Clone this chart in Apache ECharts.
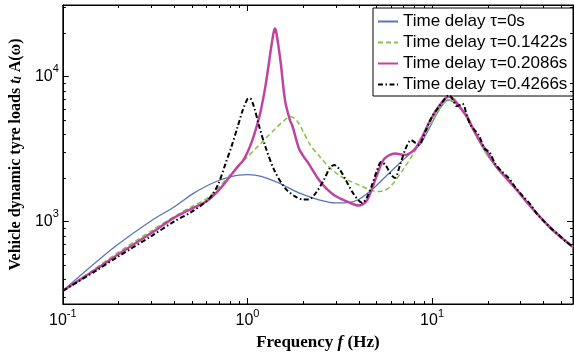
<!DOCTYPE html>
<html><head><meta charset="utf-8">
<script src="https://cdn.jsdelivr.net/npm/echarts@6/dist/echarts.min.js"></script>
<style>html,body{margin:0;padding:0;background:#fff}#c{width:574px;height:356px}</style>
</head><body><div id="c"></div>
<script>
// ---- data (frequency Hz, amplitude) ----
const seriesNames = ['Time delay \u03c4=0s','Time delay \u03c4=0.1422s','Time delay \u03c4=0.2086s','Time delay \u03c4=0.4266s'];

const fBlue = [0.1,0.15,0.2,0.3,0.4,0.5,0.6,0.7,0.8,0.9,1.0,1.1,1.2,1.4,1.6,1.8,2.0,2.5,3.0,3.5,4.0,4.7,5.5,6.5,7.5,8.7,10,11,12.2,13.5,15,17,20,23,26,30,35,40,45,50,58];
const aBlue = [333,520,700,1010,1260,1540,1760,1920,2030,2090,2110,2090,2040,1900,1760,1630,1540,1400,1345,1350,1420,1650,2000,2450,2900,3470,4800,6000,6900,6500,5500,4100,2850,2300,1950,1560,1230,1010,860,770,668];

const fGreen = [0.1,0.15,0.2,0.3,0.4,0.5,0.6,0.7,0.8,0.9,1.0,1.1,1.2,1.3,1.4,1.5,1.6,1.7,1.8,1.9,2.0,2.2,2.5,2.8,3.2,3.6,4.0,4.5,5.0,5.5,6.0,7.0,8.0,9.0,10,11,12.2,13.5,15,17,20,23,26,30,35,40,45,50,58];
const aGreen = [333,475,615,860,1080,1270,1440,1720,2080,2440,2790,3160,3530,3920,4300,4700,5050,5300,5150,4750,4200,3350,2750,2350,2050,1900,1790,1680,1610,1640,1760,2300,3000,3900,4900,6000,6900,6600,5500,4100,2850,2300,1950,1560,1230,1010,860,770,668];

const fMagenta = [0.1,0.15,0.2,0.3,0.4,0.5,0.6,0.7,0.8,0.9,0.94,1.0,1.06,1.12,1.18,1.25,1.3,1.35,1.39,1.41,1.43,1.47,1.52,1.6,1.7,1.75,1.9,2.0,2.15,2.4,2.63,3.0,3.6,4.0,4.4,4.7,5.0,5.5,6.3,7.1,8.0,8.7,9.8,11.2,12.3,13.2,14.3,15.5,16.5,17.5,18.5,20,22,25,28,32,36,40,45,50,58];
const aMagenta = [333,465,595,830,1060,1230,1380,1650,2030,2450,2600,3000,3600,4500,5800,8500,11800,16500,20500,21500,20500,16500,12000,6800,5000,4600,3200,2850,2500,2000,1730,1500,1345,1290,1380,1650,2050,2700,2950,2880,3120,3700,5020,6560,7300,6900,6040,5300,4500,3900,3450,3000,2450,2020,1720,1400,1180,1020,880,780,668];

const fBlack = [0.1,0.15,0.2,0.3,0.4,0.5,0.6,0.65,0.7,0.76,0.82,0.88,0.94,1.0,1.03,1.08,1.16,1.25,1.4,1.6,1.8,2.0,2.15,2.35,2.6,2.8,2.95,3.15,3.4,3.7,4.0,4.2,4.45,4.7,5.0,5.3,5.6,6.0,6.3,6.7,7.2,7.7,8.1,8.5,9.2,10,11,12.4,13.0,13.6,14.6,15.5,16.2,17.2,18.0,19.2,20.5,22,24,26,28,31,34,37,40,44,48,53,58];
const aBlack = [333,455,575,790,1000,1170,1380,1550,1850,2500,3300,4400,5800,7000,7100,6300,4500,3300,2250,1700,1500,1420,1420,1580,1950,2350,2460,2300,1950,1600,1400,1345,1480,1750,2200,2580,2450,2100,2000,2450,3200,3650,3500,3380,4200,5300,6300,7450,6900,6250,6500,5300,4600,4200,3900,3200,3000,2500,2200,2000,1750,1500,1320,1130,1020,900,820,730,668];

// axis minor tick values
const xMinorTicks = [0.2,0.3,0.4,0.5,0.6,0.7,0.8,0.9,2,3,4,5,6,7,8,9,20,30,40,50];
const yMinorTicks = [300,400,500,600,700,800,900,2000,3000,4000,5000,6000,7000,8000,9000,20000,30000];

const xRange = [0.1, 58];
const yRange = [270, 31200];

const zip = (f, a) => f.map((v, i) => [v, a[i]]);

const chart = echarts.init(document.getElementById('c'), null, {renderer: 'canvas'});

function powLabel(v) {
  const l = Math.log10(v);
  const n = Math.round(l);
  if (Math.abs(l - n) > 1e-6) return '';
  return '{b|10}{e|' + n + '}';
}
const labelRich = {
  b: {fontSize: 16, lineHeight: 26, fontFamily: 'Liberation Sans, Arial', color: '#000'},
  e: {fontSize: 11, lineHeight: 11, verticalAlign: 'top', fontFamily: 'Liberation Sans, Arial', color: '#000'}
};
const axisCommon = {
  type: 'log', logBase: 10,
  axisLine: {show: true, onZero: false, lineStyle: {color: '#000', width: 1}},
  axisTick: {show: true, inside: true, length: 6, lineStyle: {color: '#000'}},
  splitLine: {show: false},
  minorTick: {show: false}
};

function minorTickSeries(vals, isX) {
  return {
    type: 'custom', silent: true, clip: false, z: 5,
    xAxisIndex: 0, yAxisIndex: 0,
    data: vals.map(v => isX ? [v, 1000] : [1, v]),
    encode: {x: 0, y: 1},
    renderItem: function (params, api) {
      const cs = params.coordSys;
      const p = api.coord([api.value(0), api.value(1)]);
      const st = {stroke: '#000', lineWidth: 1};
      if (isX) {
        const x = Math.round(p[0]) + 0.5;
        return {type: 'group', children: [
          {type: 'line', shape: {x1: x, y1: cs.y + cs.height, x2: x, y2: cs.y + cs.height - 3}, style: st},
          {type: 'line', shape: {x1: x, y1: cs.y, x2: x, y2: cs.y + 3}, style: st}
        ]};
      } else {
        const y = Math.round(p[1]) + 0.5;
        return {type: 'group', children: [
          {type: 'line', shape: {x1: cs.x, y1: y, x2: cs.x + 3, y2: y}, style: st},
          {type: 'line', shape: {x1: cs.x + cs.width, y1: y, x2: cs.x + cs.width - 3, y2: y}, style: st}
        ]};
      }
    }
  };
}

const option = {
  animation: false,
  backgroundColor: '#fff',
  grid: {left: 58, right: 1, top: 5, bottom: 52, show: true, borderColor: '#000', borderWidth: 1, backgroundColor: 'transparent'},
  legend: {
    data: seriesNames, orient: 'vertical', right: 1, top: 8,
    itemWidth: 20, itemHeight: 12, itemGap: 4,
    padding: [5, 4, 3, 4],
    borderColor: '#000', borderWidth: 1, backgroundColor: '#fff',
    itemStyle: {opacity: 0},
    textStyle: {fontSize: 17, lineHeight: 16, width: 166, fontFamily: 'Liberation Sans, Arial', color: '#000'}
  },
  xAxis: [
    Object.assign({}, axisCommon, {
      position: 'bottom', min: xRange[0], max: xRange[1],
      axisLabel: {margin: 4, formatter: powLabel, rich: labelRich, showMinLabel: true, showMaxLabel: false},
      name: '{n|Frequency }{i|f}{n| (Hz)}', nameLocation: 'middle', nameGap: 28,
      nameTextStyle: {rich: {
        n: {fontSize: 17, fontWeight: 'bold', fontFamily: 'Liberation Serif, Times New Roman', color: '#000'},
        i: {fontSize: 17, fontWeight: 'bold', fontStyle: 'italic', fontFamily: 'Liberation Serif, Times New Roman', color: '#000'}
      }}
    }),
    Object.assign({}, axisCommon, {
      position: 'top', min: xRange[0], max: xRange[1],
      axisLabel: {show: false}
    })
  ],
  yAxis: [
    Object.assign({}, axisCommon, {
      position: 'left', min: yRange[0], max: yRange[1],
      axisLabel: {margin: 4, formatter: powLabel, rich: labelRich, showMinLabel: false, showMaxLabel: false},
      name: '{n|Vehicle dynamic tyre loads }{i|t}{s|l}{n| A(\u03c9)}', nameLocation: 'middle', nameGap: 30,
      nameTextStyle: {rich: {
        n: {fontSize: 16, fontWeight: 'bold', fontFamily: 'Liberation Serif, Times New Roman', color: '#000'},
        i: {fontSize: 16, fontWeight: 'bold', fontStyle: 'italic', fontFamily: 'Liberation Serif, Times New Roman', color: '#000'},
        s: {fontSize: 11, fontWeight: 'bold', fontStyle: 'italic', verticalAlign: 'bottom', fontFamily: 'Liberation Serif, Times New Roman', color: '#000'}
      }}
    }),
    Object.assign({}, axisCommon, {
      position: 'right', min: yRange[0], max: yRange[1],
      axisLabel: {show: false}
    })
  ],
  series: [
    {name: seriesNames[0], type: 'line', data: zip(fBlue, aBlue), smooth: 0.3, symbol: 'none', z: 2,
      lineStyle: {color: '#5a73bd', width: 1.3}, itemStyle: {color: '#5a73bd'}},
    {name: seriesNames[1], type: 'line', data: zip(fGreen, aGreen), smooth: 0.3, symbol: 'none', z: 3,
      lineStyle: {color: '#86c34a', width: 1.5, type: [5, 3]}, itemStyle: {color: '#86c34a'}},
    {name: seriesNames[2], type: 'line', data: zip(fMagenta, aMagenta), smooth: 0.3, symbol: 'none', z: 4,
      lineStyle: {color: '#c0449f', width: 2.5}, itemStyle: {color: '#c0449f'}},
    {name: seriesNames[3], type: 'line', data: zip(fBlack, aBlack), smooth: 0.3, symbol: 'none', z: 5,
      lineStyle: {color: '#000', width: 2, type: [5, 2.5, 1.5, 2.5]}, itemStyle: {color: '#000'}},
    minorTickSeries(xMinorTicks, true),
    minorTickSeries(yMinorTicks, false)
  ]
};
chart.setOption(option);
</script>
</body></html>
